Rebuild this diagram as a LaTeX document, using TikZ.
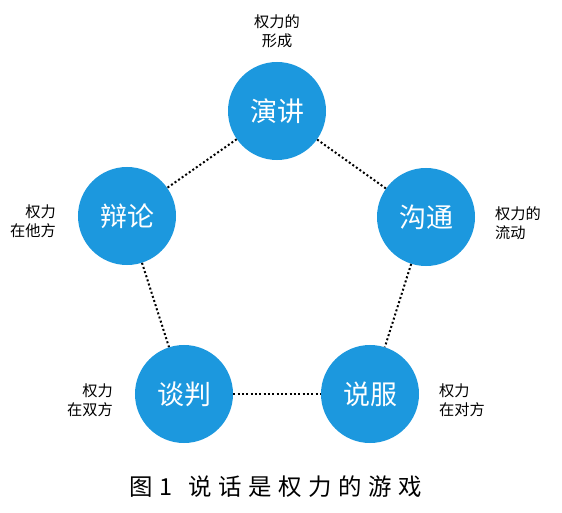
\documentclass[tikz,border=0pt]{standalone}
\usepackage{fontspec}
\newfontfamily\cjk{Noto Sans CJK SC}
\tikzset{
  skill/.style={circle, fill=skillblue, minimum size=2.94cm, inner sep=0pt,
    text=white, font=\cjk\fontsize{23}{26}\selectfont},
  power/.style={font=\cjk\fontsize{13}{16}\selectfont, inner sep=0pt},
  link/.style={line width=1.7pt, dotted}
}
\definecolor{skillblue}{RGB}{28,152,222}
\begin{document}
\begin{tikzpicture}[x=0.03cm, y=-0.03cm]

    % --- canvas ---
    \useasboundingbox (0,0) rectangle (562,513);

    % --- The five skills ---
    \node[skill] (yanjiang) at (277,111) {演讲};
    \node[skill] (bianlun)  at (127,216) {辩论};
    \node[skill] (goutong)  at (426,217) {沟通};
    \node[skill] (tanpan)   at (184,394) {谈判};
    \node[skill] (shuofu)   at (370,394) {说服};

    % --- Dotted pentagon edges ---
    \draw[link] (yanjiang) -- (bianlun);
    \draw[link] (yanjiang) -- (goutong);
    \draw[link] (bianlun) -- (tanpan);
    \draw[link] (goutong) -- (shuofu);
    \draw[link] (tanpan) -- (shuofu);

    % --- Where the power lies ---
    \node[power, align=center] (xingcheng) at (277,31) {权力的\\形成};
    \node[power, align=right, anchor=east] (tafang) at (56,221) {权力\\在他方};
    \node[power, align=left, anchor=west] (liudong) at (495,223) {权力的\\流动};
    \node[power, align=right, anchor=east] (shuangfang) at (113,400) {权力\\在双方};
    \node[power, align=left, anchor=west] (duifang) at (439,400) {权力\\在对方};

    % --- Caption ---
    \node[font=\cjk\fontsize{20}{24}\selectfont\addfontfeature{LetterSpace=28}]
      (caption) at (276,487) {图1\hspace{0.7em}说话是权力的游戏};

  \end{tikzpicture}
\end{document}
